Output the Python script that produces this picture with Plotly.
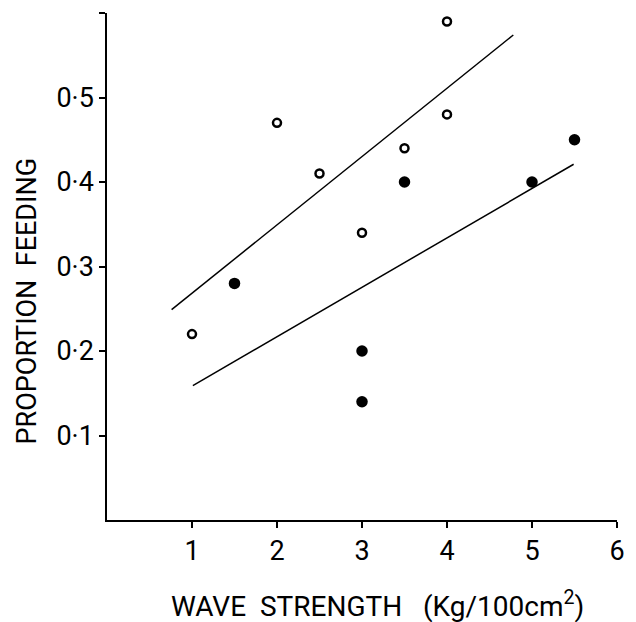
import plotly.graph_objects as go

# open circles
open_x = [1.0, 2.0, 2.5, 3.0, 3.5, 4.0, 4.0]
open_y = [0.22, 0.47, 0.41, 0.34, 0.44, 0.59, 0.48]
# filled circles
filled_x = [1.5, 3.0, 3.0, 3.5, 5.0, 5.5]
filled_y = [0.28, 0.20, 0.14, 0.40, 0.40, 0.45]
# fitted lines (endpoints as drawn)
upper_x = [0.76, 4.78]
upper_y = [0.249, 0.574]
lower_x = [1.01, 5.49]
lower_y = [0.159, 0.421]

x_ticks = [1, 2, 3, 4, 5, 6]
x_labels = ["1", "2", "3", "4", "5", "6"]
y_ticks = [0.1, 0.2, 0.3, 0.4, 0.5, 0.6]
y_labels = ["0·1", "0·2", "0·3", "0·4", "0·5", " "]

FONT = "Roboto, sans-serif"
SP = "\u00a0"

fig = go.Figure()
fig.add_trace(go.Scatter(x=upper_x, y=upper_y, mode="lines",
                         line=dict(color="black", width=1.5), showlegend=False))
fig.add_trace(go.Scatter(x=lower_x, y=lower_y, mode="lines",
                         line=dict(color="black", width=1.5), showlegend=False))
fig.add_trace(go.Scatter(x=open_x, y=open_y, mode="markers",
                         marker=dict(symbol="circle-open", size=8, color="black",
                                     line=dict(width=2.5, color="black")),
                         showlegend=False))
fig.add_trace(go.Scatter(x=filled_x, y=filled_y, mode="markers",
                         marker=dict(symbol="circle", size=11.5, color="black"),
                         showlegend=False))

fig.update_xaxes(range=[0, 6], tickvals=x_ticks, ticktext=x_labels, automargin=False,
                 showgrid=False, zeroline=False, showline=True, linecolor="black",
                 linewidth=1.5, ticks="outside", ticklen=6, tickwidth=1.5,
                 tickcolor="black", tickfont=dict(family=FONT, size=27, color="black"))
fig.update_yaxes(range=[0, 0.6], tickvals=y_ticks, ticktext=y_labels, automargin=False,
                 showgrid=False, zeroline=False, showline=True, linecolor="black",
                 linewidth=1.5, ticks="outside", ticklen=6, tickwidth=1.5,
                 tickcolor="black", tickfont=dict(family=FONT, size=27, color="black"))

fig.add_annotation(text=f"WAVE{SP*2}STRENGTH{SP*3}(Kg/100cm<sup>2</sup>)",
                   xref="paper", yref="paper",
                   x=0.531, y=-0.166, xanchor="center", yanchor="middle", showarrow=False,
                   font=dict(family=FONT, size=28, color="black"))
fig.add_annotation(text=f"PROPORTION{SP*2}FEEDING", xref="paper", yref="paper",
                   x=-0.156, y=0.432, xanchor="center", yanchor="middle", showarrow=False,
                   textangle=-90, font=dict(family=FONT, size=27, color="black"))

fig.update_layout(width=636, height=622, plot_bgcolor="white", paper_bgcolor="white",
                  margin=dict(l=107, r=19, t=13, b=102), hovermode=False)

# remove the browser's default 8px body margin so the figure fills the window
fig.write_html("out.html", config={"displayModeBar": False},
               post_script="document.body.style.margin='0';")
